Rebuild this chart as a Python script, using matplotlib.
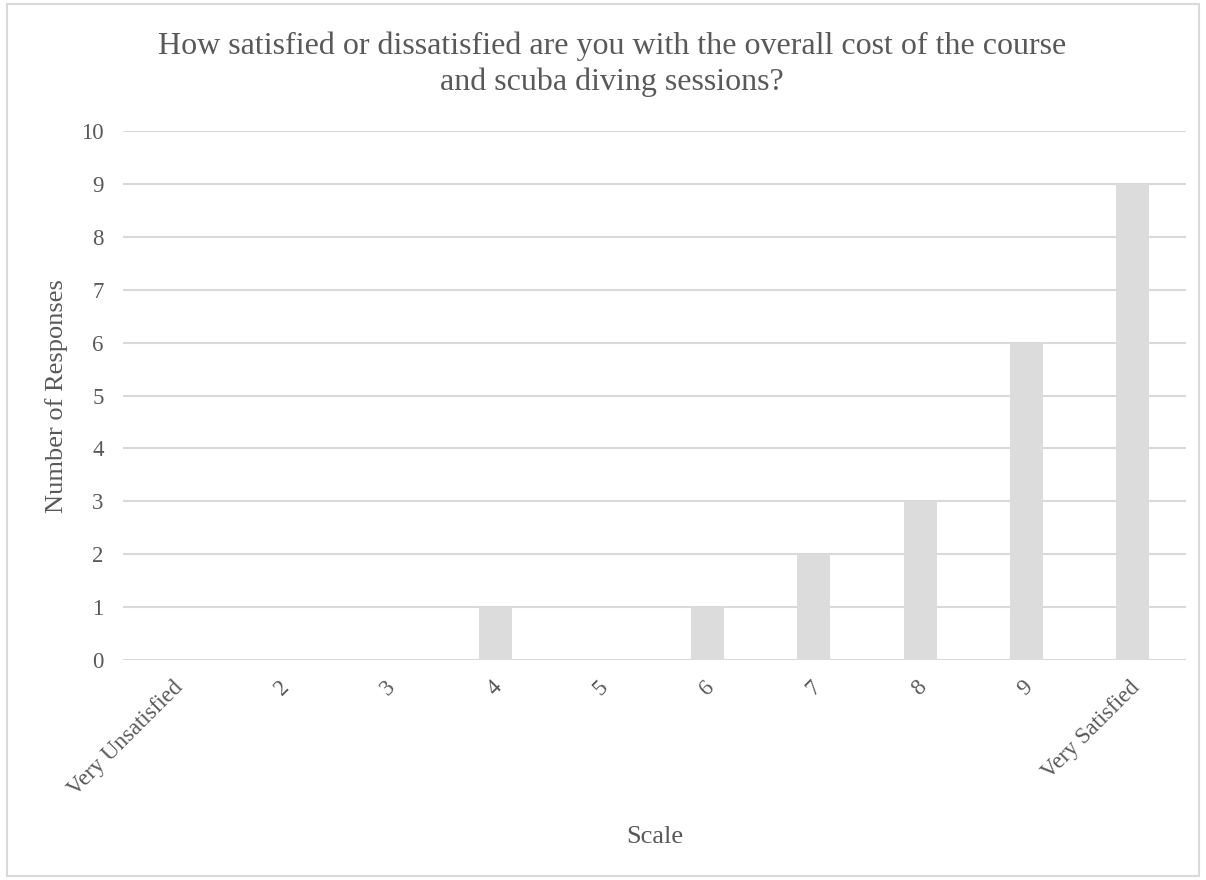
import matplotlib
matplotlib.use("Agg")
import matplotlib.pyplot as plt
from matplotlib.patches import Rectangle
from matplotlib.transforms import ScaledTranslation

plt.rcParams['font.family'] = ['Liberation Serif', 'DejaVu Serif']

categories = ["Very Unsatisfied", "2", "3", "4", "5", "6", "7", "8", "9", "Very Satisfied"]
responses = [0, 0, 0, 1, 0, 1, 2, 3, 6, 9]
y_ticks = list(range(0, 11))
title_lines = ["How satisfied or dissatisfied are you with the overall cost of the course",
               "and scuba diving sessions?"]

text_color = "#595959"
grid_color = "#d9d9d9"
bar_color = "#dcdcdc"

W, H = 1206, 880
fig = plt.figure(figsize=(W / 100, H / 100), dpi=100)
fig.patches.append(Rectangle((0.006, 0.005), 0.988, 0.99, transform=fig.transFigure,
                             fill=False, edgecolor=grid_color, linewidth=1.5))

ax = fig.add_axes([0.102, 0.25, 0.8814, 0.601])
x = range(len(categories))
ax.bar(x, responses, width=0.31, color=bar_color, zorder=3)

ax.set_xlim(-0.5, len(categories) - 0.5)
ax.set_ylim(0, 10)
ax.set_yticks(y_ticks)
ax.yaxis.grid(True, color=grid_color, linewidth=1.5, zorder=0)
for s in ax.spines.values():
    s.set_visible(False)
ax.tick_params(axis='both', length=0, labelsize=16.5, labelcolor=text_color)
ax.tick_params(axis='y', pad=14)
ax.tick_params(axis='x', pad=12)

ax.set_xticks(list(x))
ax.set_xticklabels(categories, rotation=45, ha='right', va='top', rotation_mode='anchor')
nudge = ScaledTranslation(-4 / 100, 0, fig.dpi_scale_trans)
for lbl in ax.get_xticklabels():
    lbl.set_transform(lbl.get_transform() + nudge)

# axis titles and chart title placed in figure pixels
fig.text(57 / W, 1 - 396 / H, "Number of Responses", rotation=90, ha='center', va='center',
         fontsize=19, color=text_color)
fig.text(655 / W, 1 - 843 / H, "Scale", ha='center', va='baseline',
         fontsize=19, color=text_color)
for i, line in enumerate(title_lines):
    fig.text(612 / W, 1 - (54 + 36 * i) / H, line, ha='center', va='baseline',
             fontsize=23, color=text_color)

fig.savefig("out.png", dpi=100)
